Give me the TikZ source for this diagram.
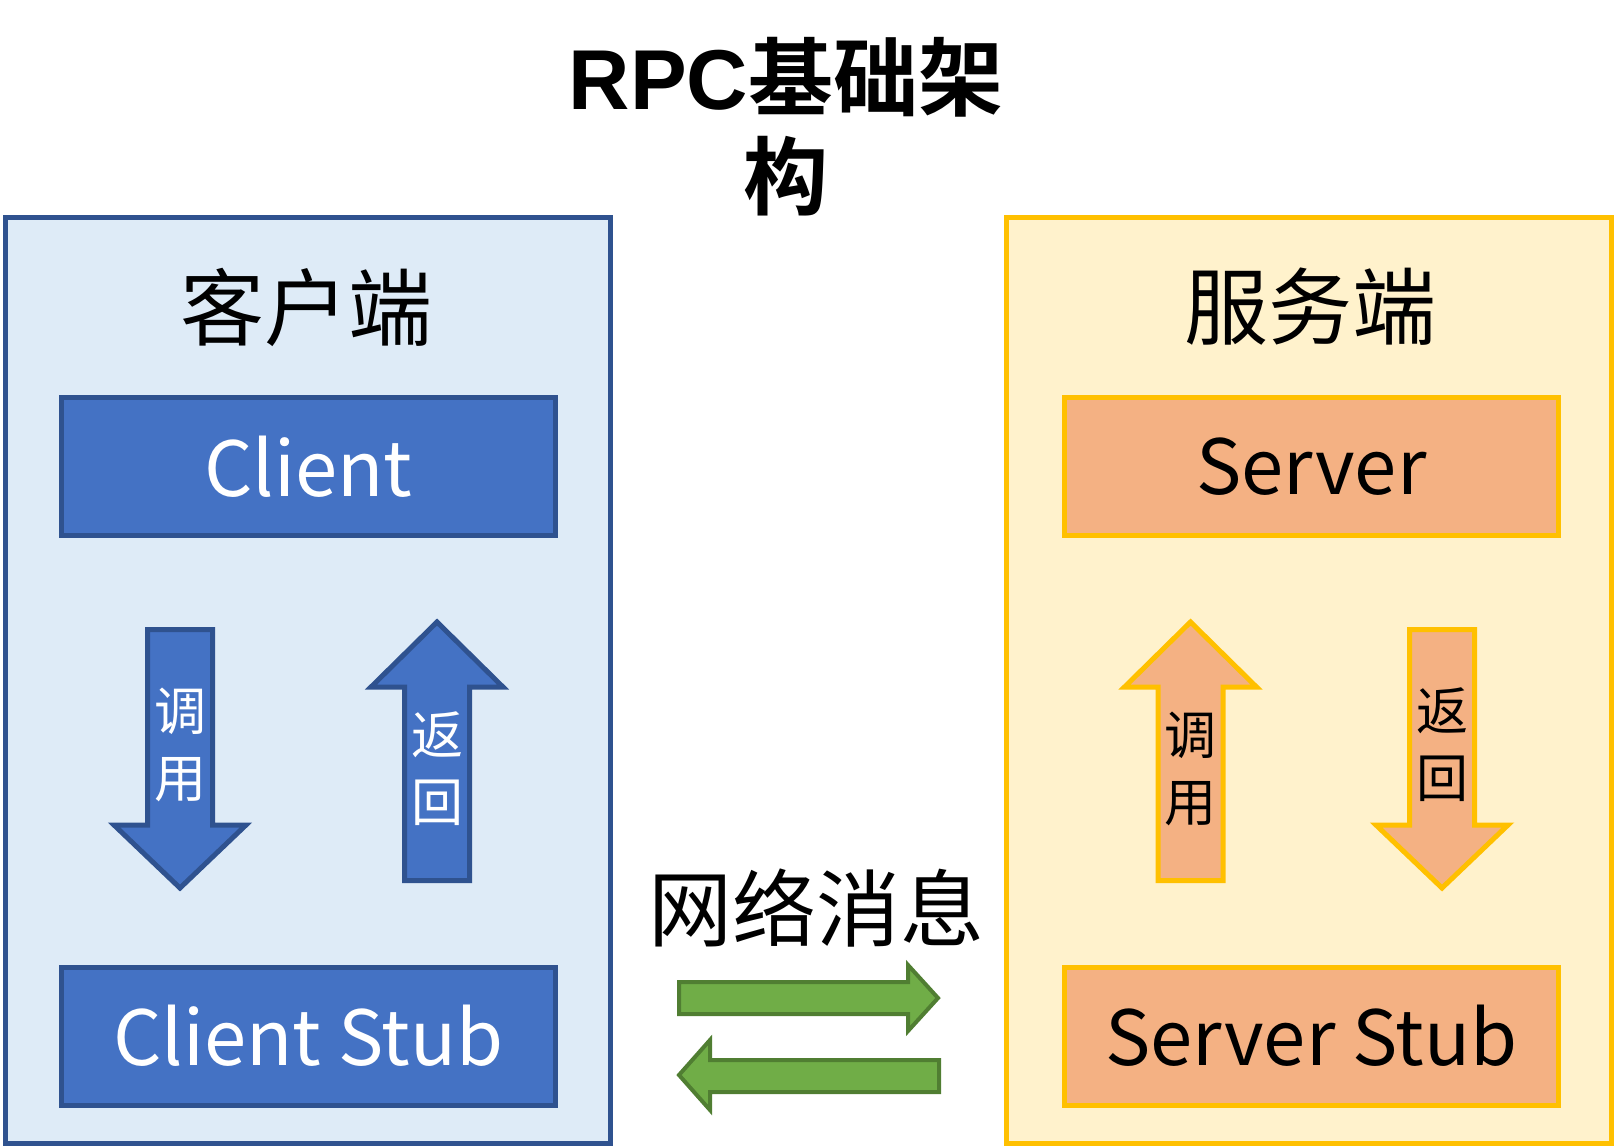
\documentclass[tikz,border=0pt]{standalone}
\usepackage{fontspec}
\setmainfont{Noto Sans CJK SC}[BoldFont = Noto Sans CJK SC Bold]
\newfontfamily\rpcfont{Liberation Sans}
\usepackage{tikz}

\definecolor{bluefill}{HTML}{4472C4}
\definecolor{blueedge}{HTML}{2F528F}
\definecolor{bluepale}{HTML}{DEEBF7}
\definecolor{yellowedge}{HTML}{FFC000}
\definecolor{yellowpale}{HTML}{FFF2CC}
\definecolor{orangefill}{HTML}{F4B183}
\definecolor{greenfill}{HTML}{70AD47}
\definecolor{greenedge}{HTML}{507E32}

\begin{document}
\begin{tikzpicture}[x = 0.5pt, y = -0.5pt, line join = miter,
                    panel/.style = {rectangle, line width = 2.5pt, minimum width = 302.5pt, minimum height = 463pt},
                    block/.style = {rectangle, line width = 2.5pt, minimum width = 247pt, minimum height = 69pt,
                                    font = \fontsize{38}{46}\selectfont},
                    side/.style = {font = \fontsize{42}{50}\selectfont},
                    tag/.style = {align = center, font = \fontsize{26}{33.5}\selectfont},
                    blue/.style = {draw = blueedge, fill = bluefill, line width = 2.5pt},
                    orange/.style = {draw = yellowedge, fill = orangefill, line width = 2.5pt},
                    green/.style = {draw = greenedge, fill = greenfill, line width = 2pt}]
  \useasboundingbox (0,0) rectangle (1617,1147);
  \node at (786,127)[align=center, font=\fontsize{42.5}{49.5}\selectfont\bfseries] (T0) {{\rpcfont RPC}基础架\\构};

  \node [panel, draw = blueedge, fill = bluepale] (P1) at (308,680.5) {};
  \node [panel, draw = yellowedge, fill = yellowpale] (P2) at (1308.5,680.5) {};
  \node [side] (L1) at (306,307) {客户端};
  \node [side] (L2) at (1310,307) {服务端};
  \node [side] (L3) at (816,908) {网络消息};

  \node [block, blue, text = white] (C1) at (308.5,466.5) {Client};
  \node [block, blue, text = white] (C2) at (308.5,1036) {Client Stub};
  \node [block, orange] (S1) at (1311.5,466.5) {Server};
  \node [block, orange] (S2) at (1311.5,1036) {Server Stub};

  \draw [blue] (147.5,629.5) -- (212.5,629.5) -- (212.5,825) -- (246,825) -- (180,888) -- (114,825) -- (147.5,825) -- cycle;
  \draw [blue] (404.5,880.5) -- (469.5,880.5) -- (469.5,687) -- (503,687) -- (437,622) -- (371,687) -- (404.5,687) -- cycle;
  \draw [orange] (1158,880.5) -- (1223,880.5) -- (1223,687) -- (1256.5,687) -- (1190.5,622) -- (1124.5,687) -- (1158,687) -- cycle;
  \draw [orange] (1409.5,629.5) -- (1474.5,629.5) -- (1474.5,825) -- (1508,825) -- (1442,888) -- (1376,825) -- (1409.5,825) -- cycle;
  \node [tag, text = white] (A1) at (180,744.5) {调\\用};
  \node [tag, text = white] (A2) at (437,768.5) {返\\回};
  \node [tag] (A3) at (1190.5,768.5) {调\\用};
  \node [tag] (A4) at (1442,744.5) {返\\回};

  \draw [green] (679,982) -- (908,982) -- (908,965) -- (938,998) -- (908,1031) -- (908,1014) -- (679,1014) -- cycle;
  \draw [green] (939,1060) -- (710,1060) -- (710,1040) -- (679,1075) -- (710,1110) -- (710,1092) -- (939,1092) -- cycle;
\end{tikzpicture}
\end{document}
